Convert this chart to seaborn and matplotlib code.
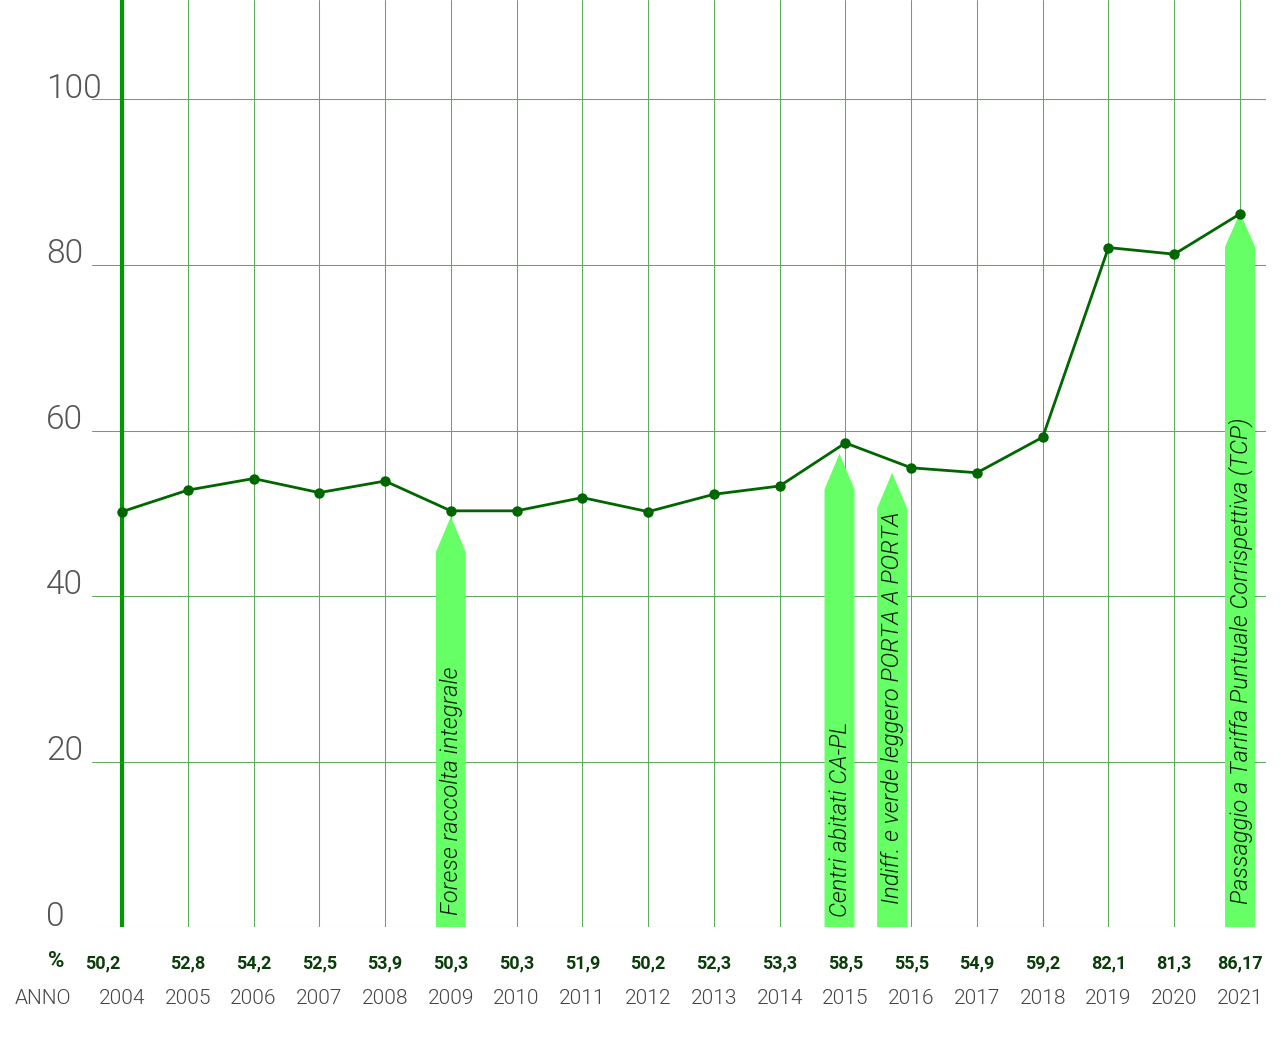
import seaborn as sns
import matplotlib.pyplot as plt
import matplotlib.transforms as mtransforms
from matplotlib.patches import Polygon

years = [2004, 2005, 2006, 2007, 2008, 2009, 2010, 2011, 2012,
         2013, 2014, 2015, 2016, 2017, 2018, 2019, 2020, 2021]
values = [50.2, 52.8, 54.2, 52.5, 53.9, 50.3, 50.3, 51.9, 50.2,
          52.3, 53.3, 58.5, 55.5, 54.9, 59.2, 82.1, 81.3, 86.17]
value_labels = ["50,2", "52,8", "54,2", "52,5", "53,9", "50,3", "50,3", "51,9", "50,2",
                "52,3", "53,3", "58,5", "55,5", "54,9", "59,2", "82,1", "81,3", "86,17"]
y_ticks = [0, 20, 40, 60, 80, 100]

# milestone arrows: position on the time axis, tip and shoulder height
arrow_x = [2009.0, 2014.91, 2015.71, 2021.0]
arrow_tip = [49.6, 57.2, 54.9, 86.3]
arrow_shoulder = [45.3, 52.9, 50.6, 82.2]
arrow_text = ["Forese raccolta integrale",
              "Centri abitati CA-PL",
              "Indiff. e verde leggero PORTA A PORTA",
              "Passaggio a Tariffa Puntuale Corrispettiva (TCP)"]
arrow_text_bottom = [1.5, 1.3, 2.8, 2.8]

sns.set_style("white")
plt.rcParams['font.family'] = ['Roboto', 'DejaVu Sans']

W, H = 1281, 1038
fig = plt.figure(figsize=(W / 100, H / 100), dpi=100)
ax = fig.add_axes([92 / W, (H - 927.3) / H, (1266 - 92) / W, 927.3 / H])

ax.set_xlim(2003.544, 2021.395)
ax.set_ylim(0, 112)
for s in ax.spines.values():
    s.set_visible(False)
ax.set_xticks(years)
ax.set_yticks(y_ticks)
ax.tick_params(left=False, bottom=False, labelleft=False, labelbottom=False)
ax.grid(True, color="#5dab5d", linewidth=0.75, zorder=0)
ax.set_axisbelow(True)

# arrows
half = 0.228
for xc, tip, sh, txt, tb in zip(arrow_x, arrow_tip, arrow_shoulder, arrow_text, arrow_text_bottom):
    poly = Polygon([(xc - half, 0), (xc - half, sh), (xc, tip), (xc + half, sh), (xc + half, 0)],
                   closed=True, facecolor="#66ff66", edgecolor="none", zorder=2)
    ax.add_patch(poly)
    ax.text(xc + 0.01, tb, txt, rotation=90, ha="center", va="bottom", fontsize=17,
            fontstyle="italic", fontweight=300, color="#0a1a0a", zorder=3)

# thick axis line at first year
ax.axvline(years[0], color="#009900", linewidth=3, zorder=4)

sns.lineplot(x=years, y=values, ax=ax, color="#006600", linewidth=2, marker="o",
             markersize=7.5, markeredgewidth=0, zorder=5)

# y labels
ytr = mtransforms.blended_transform_factory(fig.transFigure, ax.transData)
for v in y_ticks:
    ax.text(46 / W, v + 0.2, str(v), transform=ytr, ha="left", va="baseline",
            fontsize=24, fontweight=300, color="#555555")

# bottom rows
xtr = mtransforms.blended_transform_factory(ax.transData, fig.transFigure)
for i, (yr, lab) in enumerate(zip(years, value_labels)):
    ax.text(yr - (0.02 if i == 0 else 0), 1 - 963 / H, lab, transform=xtr,
            ha="right" if i == 0 else "center", va="center",
            fontsize=13, fontweight="bold", color="#0b3d0b")
    ax.text(yr, 1 - 998 / H, str(yr), transform=xtr, ha="center", va="center",
            fontsize=15, fontweight=300, color="#444444")
fig.text(56 / W, 1 - 961 / H, "%", ha="center", va="center", fontsize=16,
         fontweight="bold", color="#0b3d0b")
fig.text(15 / W, 1 - 998 / H, "ANNO", ha="left", va="center", fontsize=15,
         fontweight=300, color="#444444")

fig.savefig("out.png", dpi=100)
